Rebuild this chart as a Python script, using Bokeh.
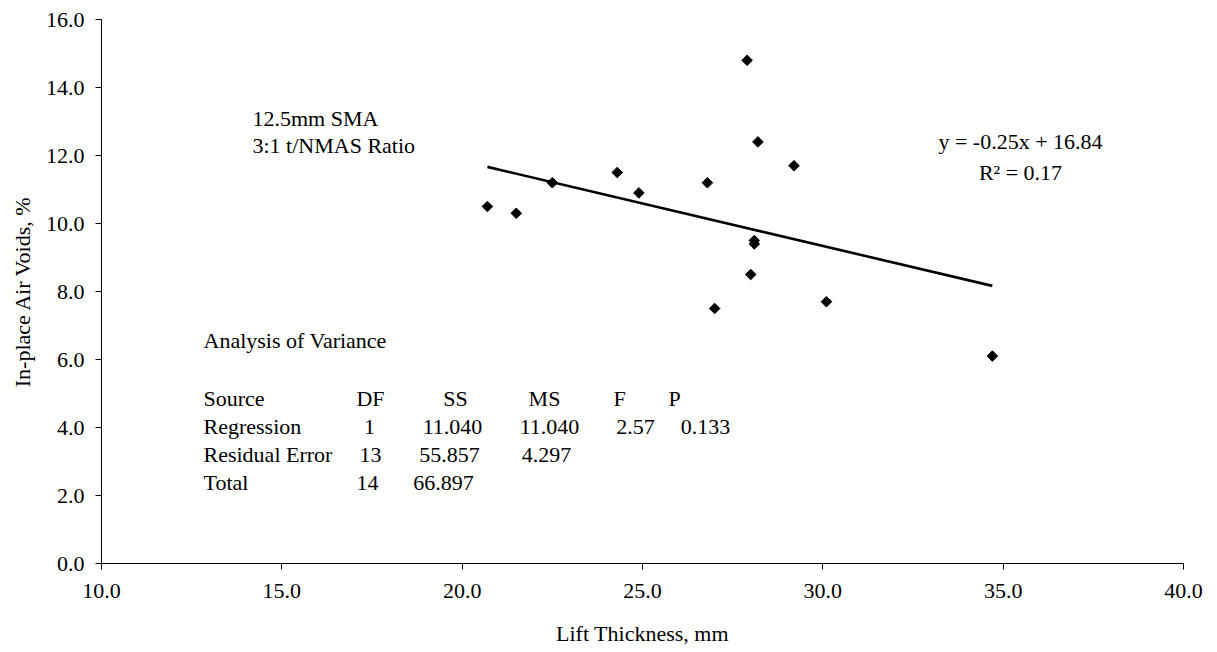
from bokeh.plotting import figure
from bokeh.models import Range1d, FixedTicker, NumeralTickFormatter, Label, ColumnDataSource
from bokeh.embed import file_html
from bokeh.resources import INLINE

# ---- data ----
lift_thickness = [20.7, 21.5, 22.5, 24.3, 24.9, 26.8, 27.9, 28.2, 29.2, 28.1, 28.1, 28.0, 27.0, 30.1, 34.7]
air_voids = [10.5, 10.3, 11.2, 11.5, 10.9, 11.2, 14.8, 12.4, 11.7, 9.5, 9.4, 8.5, 7.5, 7.7, 6.1]
trend_slope = -0.25
trend_intercept = 16.84
x_ticks = [10, 15, 20, 25, 30, 35, 40]
y_ticks = [0, 2, 4, 6, 8, 10, 12, 14, 16]

anova_title = "Analysis of Variance"
anova_header = ["Source", "DF", "SS", "MS", "F", "P"]
anova_rows = [
    ["Regression", "1", "11.040", "11.040", "2.57", "0.133"],
    ["Residual Error", "13", "55.857", "4.297", "", ""],
    ["Total", "14", "66.897", "", "", ""],
]
mix_lines = ["12.5mm SMA", "3:1 t/NMAS Ratio"]
eq_lines = ["y = -0.25x + 16.84", "R\u00b2 = 0.17"]

FONT = "Liberation Serif"
FS = "22px"

W, H = 1217, 652
L, R, T, B = 101, 34, 19, 89
X0, X1, Y0, Y1 = 10, 40, 0, 16

p = figure(width=W, height=H, output_backend="svg", toolbar_location=None,
           x_range=Range1d(X0, X1), y_range=Range1d(Y0, Y1),
           min_border_left=L, min_border_right=R, min_border_top=T, min_border_bottom=B)
p.outline_line_color = None
p.xgrid.visible = False
p.ygrid.visible = False
p.background_fill_color = "white"
p.border_fill_color = "white"

for ax in (p.xaxis[0], p.yaxis[0]):
    ax.axis_line_color = "black"
    ax.major_tick_line_color = "black"
    ax.minor_tick_line_color = None
    ax.major_tick_out = 6
    ax.major_tick_in = 0
    ax.major_label_text_font = FONT
    ax.major_label_text_font_size = FS
    ax.major_label_text_color = "black"
    ax.axis_label_text_font = FONT
    ax.axis_label_text_font_size = FS
    ax.axis_label_text_font_style = "normal"
    ax.axis_label_text_color = "black"
    ax.formatter = NumeralTickFormatter(format="0.0")

p.xaxis.ticker = FixedTicker(ticks=x_ticks)
p.yaxis.ticker = FixedTicker(ticks=y_ticks)
p.xaxis.axis_label = "Lift Thickness, mm"
p.yaxis.axis_label = "In-place Air Voids, %"
p.xaxis.major_label_standoff = 14
p.xaxis.axis_label_standoff = 20
p.yaxis.major_label_standoff = 11
p.yaxis.axis_label_standoff = 8

# trend line
tx = [min(lift_thickness), max(lift_thickness)]
ty = [trend_slope * v + trend_intercept for v in tx]
p.line(tx, ty, line_color="black", line_width=2.6)

src = ColumnDataSource(dict(x=lift_thickness, y=air_voids))
p.scatter("x", "y", source=src, marker="square", angle=0.785398, size=7.5,
          fill_color="black", line_color="black")

# pixel -> data helpers (frame spans L..W-R horizontally, T..H-B vertically)
fw = W - L - R
fh = H - T - B
def dx(px):
    return X0 + (px - L) / fw * (X1 - X0)
def dy(py):
    return Y1 - (py - T) / fh * (Y1 - Y0)

def add_text(txt, px, py, align="left"):
    p.add_layout(Label(x=dx(px), y=dy(py), text=txt, text_font=FONT, text_font_size=FS,
                       text_color="black", text_align=align, text_baseline="middle"))

add_text(mix_lines[0], 252, 118)
add_text(mix_lines[1], 252, 145)
add_text(eq_lines[0], 1020, 141, "center")
add_text(eq_lines[1], 1020, 172, "center")

add_text(anova_title, 203, 340)
row_y = [398, 426, 454, 482]
col_centers_header = [None, 370, 455, 544, 619, 674]
col_centers_rows = [
    [None, 369, 452, 549, 635, 705],
    [None, 370, 449, 546, None, None],
    [None, 367, 443, None, None, None],
]
add_text(anova_header[0], 203, row_y[0])
for j in range(1, 6):
    add_text(anova_header[j], col_centers_header[j], row_y[0], "center")
for i, row in enumerate(anova_rows):
    add_text(row[0], 203, row_y[i + 1])
    for j in range(1, 6):
        if row[j]:
            add_text(row[j], col_centers_rows[i][j], row_y[i + 1], "center")

open("out.html", "w").write(file_html(p, INLINE))
